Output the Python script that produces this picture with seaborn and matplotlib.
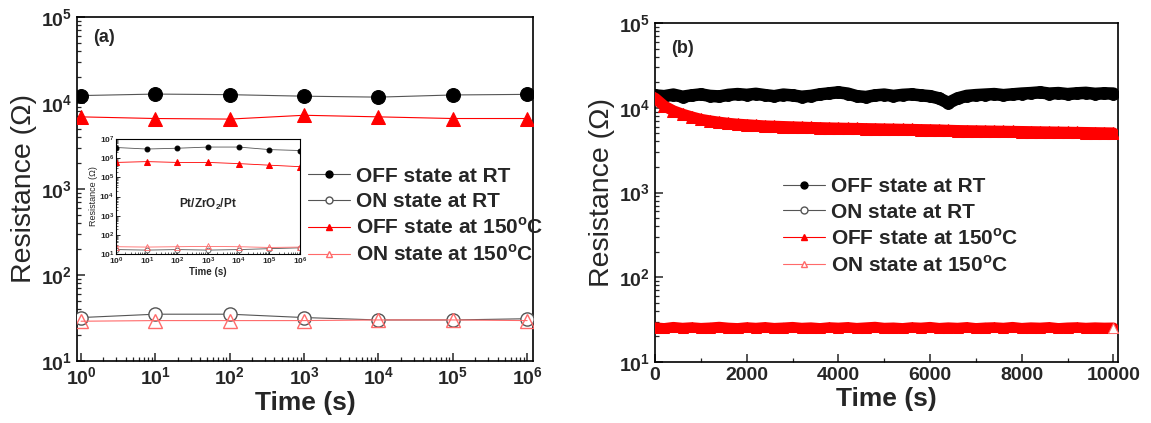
import numpy as np
import pandas as pd
import matplotlib
matplotlib.use("Agg")
import matplotlib.pyplot as plt
import seaborn as sns
from matplotlib.lines import Line2D
from matplotlib.ticker import (FixedLocator, MultipleLocator, NullFormatter,
                               LogFormatterSciNotation)

# ---------------- data ----------------
# panel (a): retention up to 1e6 s (log time)
time_a = [1, 10, 100, 1000, 1e4, 1e5, 1e6]
off_rt_a = [1.22e4, 1.27e4, 1.25e4, 1.20e4, 1.17e4, 1.24e4, 1.26e4]
on_rt_a = [32, 35, 35, 32, 30, 30, 31]
off_150_a = [6.9e3, 6.6e3, 6.5e3, 7.2e3, 6.9e3, 6.6e3, 6.6e3]
on_150_a = [29, 29.5, 29.5, 29.5, 30, 30, 29.5]

# inset: Pt/ZrO2/Pt device
inset_off_rt = [3.6e6, 3.0e6, 3.3e6, 3.8e6, 3.8e6, 2.8e6, 2.5e6]
inset_off_150 = [6.0e5, 6.6e5, 6.0e5, 6.0e5, 5.2e5, 4.3e5, 3.6e5]
inset_on_rt = [17, 16, 17, 16, 17, 19, 21]
inset_on_150 = [24, 23, 24, 25, 24, 22, 23]

# panel (b): retention up to 10000 s (linear time)
time_b = [0, 200, 400, 600, 800, 1000, 1200, 1400, 1600, 1800,
          2000, 2200, 2400, 2600, 2800, 3000, 3200, 3400, 3600, 3800,
          4000, 4200, 4400, 4600, 4800, 5000, 5200, 5400, 5600, 5800,
          6000, 6200, 6400, 6600, 6800, 7000, 7200, 7400, 7600, 7800,
          8000, 8200, 8400, 8600, 8800, 9000, 9200, 9400, 9600, 9800,
          10000]
off_rt_b = [14000, 13700, 14300, 13500, 14000, 14400, 13800, 13600, 14200, 14500,
            14200, 14600, 14100, 13700, 14300, 14000, 13500, 13800, 14400, 14800,
            15200, 14700, 13700, 13400, 14000, 14300, 13800, 14200, 14400, 14000,
            13700, 12900, 11400, 12900, 13800, 14100, 14300, 14500, 14100, 14400,
            14700, 14900, 15200, 14700, 14900, 14500, 14800, 15000, 14600, 14800,
            14700]
off_150_b = [13000, 10500, 9200, 8400, 7800, 7300, 7000, 6750, 6550, 6400,
             6300, 6200, 6100, 6050, 6000, 5950, 5900, 5850, 5820, 5780,
             5750, 5720, 5700, 5670, 5650, 5620, 5600, 5570, 5550, 5520,
             5500, 5470, 5420, 5380, 5360, 5340, 5320, 5300, 5280, 5260,
             5240, 5220, 5200, 5180, 5160, 5140, 5120, 5100, 5080, 5060,
             5040]
on_rt_b = [26.6, 26.9, 26.4, 26.8, 26.6, 26.5, 27.0, 26.7, 26.4, 26.8,
           26.6, 26.9, 26.7, 26.5, 27.1, 26.8, 26.6, 26.9, 26.7, 26.4,
           26.8, 27.0, 26.6, 26.7, 26.9, 26.5, 26.8, 26.6, 27.0, 26.7,
           26.5, 26.8, 26.6, 26.9, 26.7, 26.6, 27.0, 26.8, 26.5, 26.7,
           26.9, 26.6, 26.8, 27.0, 26.7, 26.5, 26.8, 26.6, 26.9, 26.7,
           26.6]
on_150_b = [25.5, 25.0, 25.8, 25.2, 25.6, 25.1, 25.4, 25.9, 25.3, 25.0,
            25.6, 25.2, 25.7, 25.1, 25.4, 25.8, 25.2, 25.5, 25.0, 25.6,
            25.3, 25.7, 25.1, 25.5, 25.9, 25.2, 25.4, 25.0, 25.6, 25.3,
            25.8, 25.1, 25.5, 25.2, 25.7, 25.0, 25.4, 25.6, 25.2, 25.8,
            25.1, 25.5, 25.3, 25.7, 25.0, 25.4, 25.6, 25.2, 25.5, 25.3,
            25.4]

log_ticks_x = [1, 10, 100, 1000, 1e4, 1e5, 1e6]
log_ticks_y_main = [10, 100, 1000, 1e4, 1e5]
log_ticks_y_inset = [10, 100, 1000, 1e4, 1e5, 1e6, 1e7]
lin_ticks_b = [0, 2000, 4000, 6000, 8000, 10000]

legend_labels = ["OFF state at RT", "ON state at RT",
                 "OFF state at 150$^\\mathdefault{o}$C", "ON state at 150$^\\mathdefault{o}$C"]

# ---------------- style ----------------
sns.set_theme(style="ticks", rc={
    "xtick.direction": "in", "ytick.direction": "in",
    "xtick.top": False, "ytick.right": False,
    "axes.linewidth": 1.2,
    "xtick.major.size": 6, "ytick.major.size": 6,
    "xtick.minor.size": 3, "ytick.minor.size": 3,
    "xtick.major.width": 1.1, "ytick.major.width": 1.1,
    "xtick.minor.width": 0.9, "ytick.minor.width": 0.9,
    "axes.edgecolor": "black",
})
plt.rcParams["font.family"] = ["Liberation Sans", "DejaVu Sans"]

BLACK = "#000000"
GREY = "#555555"
RED = "#ff0000"
PINK = "#ff6a6a"

fig = plt.figure(figsize=(11.51, 4.23), dpi=100)
axA = fig.add_axes([0.0669, 0.1466, 0.3962, 0.8132])
axB = fig.add_axes([0.5691, 0.1442, 0.4022, 0.8014])
axI = fig.add_axes([0.1009, 0.3995, 0.1598, 0.2719])


def log_minor(majors):
    out = []
    for m in majors[:-1]:
        out.extend([m * k for k in range(2, 10)])
    return out


def style_log(ax, which, majors):
    axis = ax.xaxis if which == "x" else ax.yaxis
    axis.set_major_locator(FixedLocator(majors))
    axis.set_minor_locator(FixedLocator(log_minor(majors)))
    axis.set_minor_formatter(NullFormatter())
    axis.set_major_formatter(LogFormatterSciNotation())


# ---------------- panel (a) ----------------
axA.set_xscale("log")
axA.set_yscale("log")
sns.lineplot(x=time_a, y=off_rt_a, ax=axA, color=GREY, lw=0.8, marker="o", markersize=10,
             markerfacecolor=BLACK, markeredgecolor=BLACK, zorder=3)
sns.lineplot(x=time_a, y=on_rt_a, ax=axA, color=GREY, lw=0.8, marker="o", markersize=9.5,
             markerfacecolor="white", markeredgecolor=GREY, markeredgewidth=1.0, zorder=3)
sns.lineplot(x=time_a, y=off_150_a, ax=axA, color=RED, lw=0.8, marker="^", markersize=10,
             markerfacecolor=RED, markeredgecolor=RED, zorder=3)
sns.lineplot(x=time_a, y=on_150_a, ax=axA, color=PINK, lw=0.8, marker="^", markersize=9.5,
             markerfacecolor="none", markeredgecolor=PINK, markeredgewidth=1.0, zorder=3)
style_log(axA, "x", log_ticks_x)
style_log(axA, "y", log_ticks_y_main)
axA.set_xlim(0.883, 1.2e6)
axA.set_ylim(10, 1e5)
axA.tick_params(axis="both", which="major", labelsize=14)
for lab in axA.get_xticklabels() + axA.get_yticklabels():
    lab.set_fontweight("bold")
axA.set_xlabel("Time (s)", fontsize=19, fontweight="bold", labelpad=2)
axA.set_ylabel("Resistance (\u03a9)", fontsize=20.5, labelpad=3)
axA.text(0.035, 0.965, "(a)", transform=axA.transAxes, fontsize=13, fontweight="bold",
         va="top", ha="left")

handles = [
    Line2D([0], [0], color=GREY, lw=0.8, marker="o", ms=5, mfc=BLACK, mec=BLACK),
    Line2D([0], [0], color=GREY, lw=0.8, marker="o", ms=5, mfc="white", mec=GREY),
    Line2D([0], [0], color=RED, lw=0.8, marker="^", ms=5, mfc=RED, mec=RED),
    Line2D([0], [0], color=PINK, lw=0.8, marker="^", ms=5, mfc="white", mec=PINK),
]
axA.legend(handles=handles, labels=legend_labels, loc="upper left",
           bbox_to_anchor=(0.484, 0.595), frameon=False, borderpad=0,
           handlelength=2.0, handletextpad=0.3, labelspacing=0.3,
           prop={"size": 15, "weight": "bold"})

# ---------------- inset ----------------
axI.set_xscale("log")
axI.set_yscale("log")
sns.lineplot(x=time_a, y=inset_off_rt, ax=axI, color=GREY, lw=0.6, marker="o", markersize=3.5,
             markerfacecolor=BLACK, markeredgecolor=BLACK)
sns.lineplot(x=time_a, y=inset_on_rt, ax=axI, color=GREY, lw=0.6, marker="o", markersize=3.5,
             markerfacecolor="white", markeredgecolor=GREY, markeredgewidth=0.6)
sns.lineplot(x=time_a, y=inset_off_150, ax=axI, color=RED, lw=0.6, marker="^", markersize=4,
             markerfacecolor=RED, markeredgecolor=RED)
sns.lineplot(x=time_a, y=inset_on_150, ax=axI, color=PINK, lw=0.6, marker="^", markersize=4,
             markerfacecolor="none", markeredgecolor=PINK, markeredgewidth=0.6)
style_log(axI, "x", log_ticks_x)
style_log(axI, "y", log_ticks_y_inset)
axI.set_xlim(1, 1e6)
axI.set_ylim(10, 1e7)
axI.tick_params(axis="both", which="major", labelsize=6, length=3, width=0.7, pad=1.5)
axI.tick_params(axis="both", which="minor", length=1.5, width=0.5)
for s in axI.spines.values():
    s.set_linewidth(0.8)
for lab in axI.get_xticklabels() + axI.get_yticklabels():
    lab.set_fontweight("bold")
axI.set_xlabel("Time (s)", fontsize=7, fontweight="bold", labelpad=0)
axI.set_ylabel("Resistance (\u03a9)", fontsize=6.5, labelpad=1)
axI.text(0.5, 0.43, "Pt/ZrO$_\\mathdefault{2}$/Pt", transform=axI.transAxes, fontsize=8.5,
         fontweight="bold", ha="center", va="center")

# ---------------- panel (b) ----------------
axB.set_yscale("log")
sns.lineplot(x=time_b, y=on_rt_b, ax=axB, color=BLACK, lw=2.5, marker="o", markersize=3,
             markerfacecolor=BLACK, markeredgecolor=BLACK, zorder=2)
sns.lineplot(x=time_b, y=on_150_b, ax=axB, color=RED, lw=7.5, marker="^", markersize=7,
             markerfacecolor=RED, markeredgecolor=RED, zorder=3)
sns.lineplot(x=time_b[-1:], y=on_150_b[-1:], ax=axB, color=RED, lw=0, marker="^", markersize=7,
             markerfacecolor="white", markeredgecolor=PINK, zorder=4)
sns.lineplot(x=time_b, y=off_rt_b, ax=axB, color=BLACK, lw=9, marker="o", markersize=8.5,
             markerfacecolor=BLACK, markeredgecolor=BLACK, zorder=3)
sns.lineplot(x=time_b, y=off_150_b, ax=axB, color=RED, lw=8, marker="^", markersize=8,
             markerfacecolor=RED, markeredgecolor=RED, zorder=3)
style_log(axB, "y", log_ticks_y_main)
axB.set_ylim(10, 1e5)
axB.set_xlim(0, 10100)
axB.xaxis.set_major_locator(FixedLocator(lin_ticks_b))
axB.xaxis.set_minor_locator(MultipleLocator(1000))
axB.tick_params(axis="both", which="major", labelsize=14)
for lab in axB.get_xticklabels() + axB.get_yticklabels():
    lab.set_fontweight("bold")
axB.set_xlabel("Time (s)", fontsize=19, fontweight="bold", labelpad=2)
axB.set_ylabel("Resistance (\u03a9)", fontsize=20.5, labelpad=3)
axB.text(0.035, 0.95, "(b)", transform=axB.transAxes, fontsize=13, fontweight="bold",
         va="top", ha="left")
axB.legend(handles=handles, labels=legend_labels, loc="upper left",
           bbox_to_anchor=(0.255, 0.575), frameon=False, borderpad=0,
           handlelength=2.0, handletextpad=0.3, labelspacing=0.3,
           prop={"size": 15, "weight": "bold"})

fig.savefig("out.png", dpi=100)
